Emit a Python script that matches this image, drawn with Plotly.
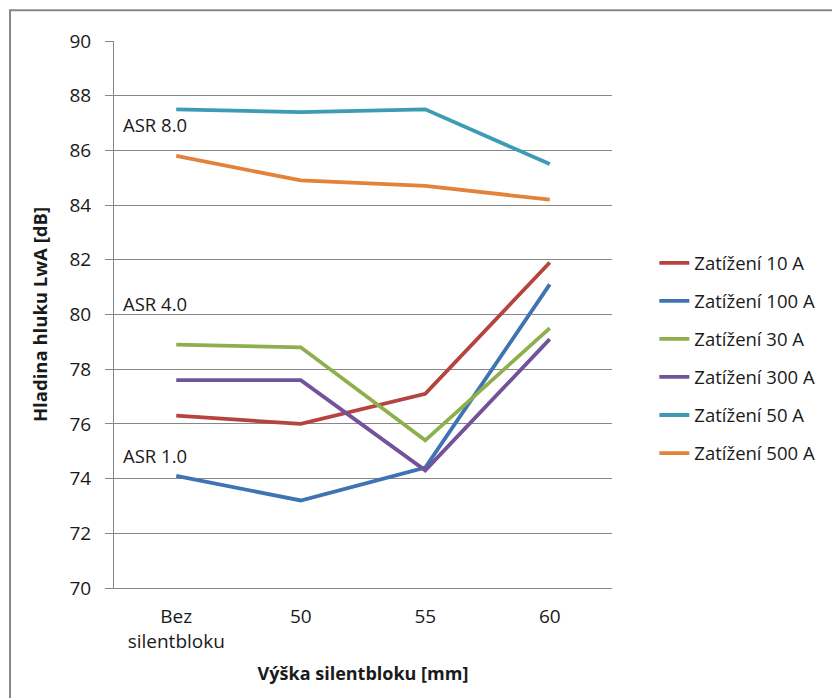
import plotly.graph_objects as go

# Noise level vs. silent-block height for several load currents
categories = ["Bez<br>silentbloku", "50", "55", "60"]

series_names = [
    "Zatížení 10 A",
    "Zatížení 100 A",
    "Zatížení 30 A",
    "Zatížení 300 A",
    "Zatížení 50 A",
    "Zatížení 500 A",
]

load_10a = [76.3, 76.0, 77.1, 81.9]
load_100a = [74.1, 73.2, 74.4, 81.1]
load_30a = [78.9, 78.8, 75.4, 79.5]
load_300a = [77.6, 77.6, 74.3, 79.1]
load_50a = [87.5, 87.4, 87.5, 85.5]
load_500a = [85.8, 84.9, 84.7, 84.2]

series_values = [load_10a, load_100a, load_30a, load_300a, load_50a, load_500a]

series_colors = ["#B5433F", "#3F73B3", "#8DB04C", "#72539A", "#3D9BB3", "#E3823A"]

# Labels for the ASR groups: (text, y value)
asr_labels = ["ASR 8.0", "ASR 4.0", "ASR 1.0"]
asr_y = [86.95, 80.41, 74.86]

FONT = "Open Sans"
TEXT = "#1a1a1a"
GRID = "#878787"

fig = go.Figure()
for i, (name, vals, col) in enumerate(zip(series_names, series_values, series_colors)):
    fig.add_trace(
        go.Scatter(
            x=categories,
            y=vals,
            name=name,
            mode="lines",
            line=dict(color=col, width=3.8),
            legendgroup=f"g{i}",
        )
    )

for txt, yv in zip(asr_labels, asr_y):
    fig.add_annotation(
        x=0.014, xref="paper", y=yv, yref="y",
        text=txt, showarrow=False, xanchor="left", yanchor="middle",
        font=dict(family=FONT, size=18.5, color=TEXT),
    )

# Outer chart-area frame
fig.add_shape(
    type="rect", xref="paper", yref="paper",
    x0=-0.2088, x1=1.6, y0=-0.4, y1=1.0561,
    line=dict(color=GRID, width=2), fillcolor="rgba(0,0,0,0)", layer="below",
)

fig.update_layout(
    width=832,
    height=698,
    margin=dict(l=114, r=220, t=41, b=110),
    paper_bgcolor="white",
    plot_bgcolor="white",
    font=dict(family=FONT, size=18.5, color=TEXT),
    showlegend=True,
    legend=dict(
        x=1.085, xanchor="left", y=0.42, yanchor="middle",
        font=dict(family=FONT, size=18.5, color=TEXT),
        tracegroupgap=11,
        bgcolor="rgba(0,0,0,0)",
    ),
    xaxis=dict(
        type="category",
        range=[-0.5, 3.5],
        showgrid=False,
        showline=True,
        linecolor=GRID,
        linewidth=1,
        ticks="",
        ticklabelstandoff=11,
        tickfont=dict(family=FONT, size=19, color=TEXT),
        title=dict(text="<b>Výška silentbloku [mm]</b>", font=dict(family=FONT, size=18, color=TEXT), standoff=14),
    ),
    yaxis=dict(
        range=[70, 90],
        dtick=2,
        showgrid=True,
        gridcolor=GRID,
        gridwidth=1,
        showline=True,
        linecolor=GRID,
        linewidth=1,
        ticks="outside",
        ticklen=8,
        tickcolor=GRID,
        ticklabelstandoff=10,
        tickfont=dict(family=FONT, size=19, color=TEXT),
        zeroline=False,
        title=dict(text="<b>Hladina hluku LwA [dB]</b>", font=dict(family=FONT, size=18.5, color=TEXT), standoff=16),
    ),
)

fig.write_html("out.html")
